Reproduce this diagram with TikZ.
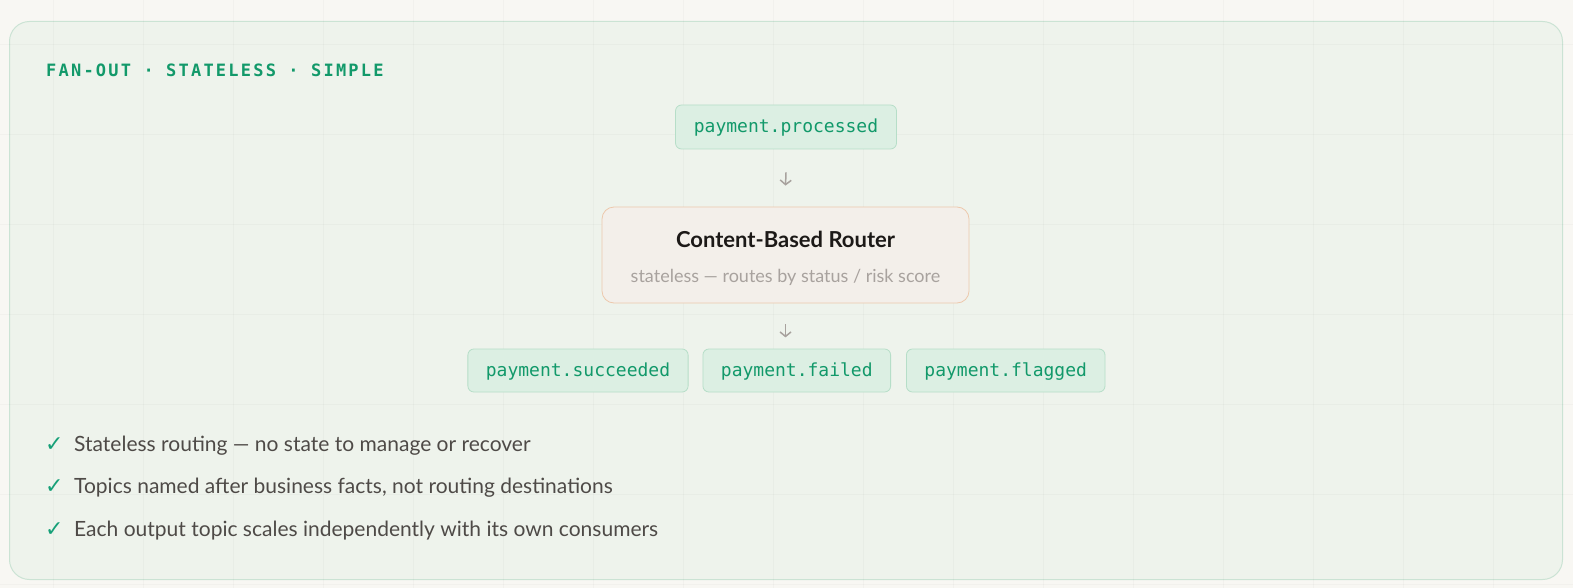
\documentclass[tikz,border=0pt]{standalone}
\usepackage{fontspec}
\setmainfont{Lato}
\newfontfamily\monof{DejaVu Sans Mono}
\newfontfamily\kickerf[LetterSpace=13]{DejaVu Sans Mono Bold}
\newfontfamily\symf{DejaVu Sans}
\usetikzlibrary{arrows.meta,positioning}
\definecolor{pagebg}{HTML}{F8F7F3}
\definecolor{panelfill}{HTML}{EEF3EC}
\definecolor{panelborder}{HTML}{CBE3D4}
\definecolor{topicfill}{HTML}{DCEFE3}
\definecolor{topicborder}{HTML}{B6DEC8}
\definecolor{topictext}{HTML}{12996A}
\definecolor{routerfill}{HTML}{F3EFEA}
\definecolor{routerborder}{HTML}{EDC8AC}
\definecolor{routertitle}{HTML}{1C1917}
\definecolor{routersub}{HTML}{A8A29E}
\definecolor{arrowc}{HTML}{A8A29E}
\definecolor{checkc}{HTML}{16A078}
\definecolor{bodytext}{HTML}{4E4A47}
\begin{document}
\begin{tikzpicture}[x=1pt,y=-1pt,
  gridline/.style={black,opacity=0.025,line width=0.8pt},
  topic/.style={draw=topicborder,fill=topicfill,rounded corners=6pt,line width=0.8pt,
    font=\monof\fontsize{18}{22}\selectfont,text=topictext,inner xsep=18pt,inner ysep=0pt,
    minimum height=43pt,text height=14pt,text depth=2pt},
  router/.style={draw=routerborder,fill=routerfill,rounded corners=12pt,line width=0.8pt,
    minimum width=367pt,minimum height=96pt,inner sep=0pt},
  routertitle/.style={font=\bfseries\fontsize{22}{26}\selectfont,text=routertitle,inner sep=0pt},
  routersub/.style={font=\fontsize{18}{21}\selectfont,text=routersub,inner sep=0pt},
  flowarrow/.style={draw=arrowc,line width=1.5pt,-{Straight Barb[length=4.5pt,width=11pt,line width=1.5pt]}},
  kicker/.style={font=\kickerf\fontsize{17}{20}\selectfont,text=topictext,inner sep=0pt},
  checkmark/.style={font=\symf\fontsize{22}{24}\selectfont,text=checkc,inner sep=0pt},
  bullet/.style={font=\fontsize{21}{25}\selectfont,text=bodytext,inner sep=0pt}
]
\useasboundingbox (0,0) rectangle (1573,588);
\fill[pagebg] (0,0) rectangle (1573,588);
\draw[draw=panelborder,fill=panelfill,line width=1pt,rounded corners=20pt] (9.5,21.5) rectangle (1562.5,579.5);
\foreach \x in {53,143,...,1553} \draw[gridline] (\x,0) -- (\x,588);
\foreach \y in {44,134,...,584} \draw[gridline] (0,\y) -- (1573,\y);

\node[kicker,anchor=base west] (kick) at (46,77) {FAN-OUT · STATELESS · SIMPLE};

\node[topic,minimum width=221pt,minimum height=44pt] (proc) at (786,127) {payment.processed};
\node[router] (router) at (785.5,255) {};
\node[routertitle,anchor=base] (rtitle) at (785.5,247) {Content-Based Router};
\node[routersub,anchor=base] (rsub) at (785.5,282) {stateless — routes by status / risk score};

\node[topic] (succ) at (578,370.5) {payment.succeeded};
\node[topic,right=14pt of succ] (fail) {payment.failed};
\node[topic,right=15pt of fail] (flag) {payment.flagged};

\coordinate (inA) at ([yshift=-23pt]proc.south);
\coordinate (inB) at ([yshift=21pt]router.north);
\coordinate (outA) at ([yshift=-21pt]router.south);
\coordinate (outB) at ([yshift=-34pt]router.south);
\draw[flowarrow] (inA) -- (inB);
\draw[flowarrow] (outA) -- (outB);

\node[checkmark,anchor=base west] (c1) at (45,451) {✓};
\node[bullet,anchor=base west] (b1) at (74,451) {Stateless routing — no state to manage or recover};
\node[checkmark,anchor=base west] (c2) at (45,493.5) {✓};
\node[bullet,anchor=base west] (b2) at (74,493.5) {Topics named after business facts, not routing destinations};
\node[checkmark,anchor=base west] (c3) at (45,536) {✓};
\node[bullet,anchor=base west] (b3) at (74,536) {Each output topic scales independently with its own consumers};
\end{tikzpicture}
\end{document}
